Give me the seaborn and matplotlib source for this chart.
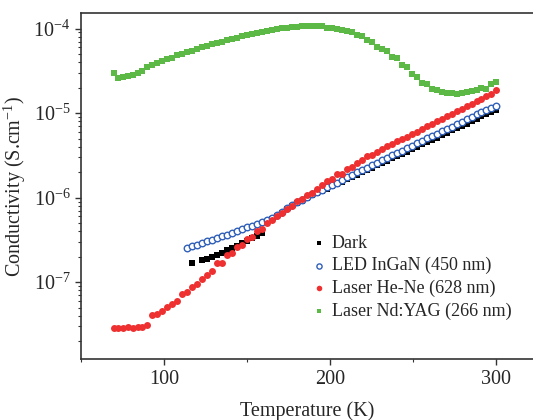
import pandas as pd
import seaborn as sns
import matplotlib.pyplot as plt
from matplotlib.ticker import MultipleLocator, LogLocator

# temperatures (K)
temp = [70, 72, 75, 78, 81, 84, 87, 90, 93, 96, 99, 102, 105, 108, 111, 114, 117, 120,
        123, 126, 129, 132, 135, 138, 141, 144, 147, 150, 153, 156, 159, 162, 165, 168,
        171, 174, 177, 180, 183, 186, 189, 192, 195, 198, 201, 204, 207, 210, 213, 216,
        219, 222, 225, 228, 231, 234, 237, 240, 243, 246, 249, 252, 255, 258, 261, 264,
        267, 270, 273, 276, 279, 282, 285, 288, 291, 294, 297, 300]
temp_led = [114, 117, 120, 123, 126, 129, 132, 135, 138, 141, 144, 147, 150, 153, 156,
            159, 162, 165, 168, 171, 174, 177, 180, 183, 186, 189, 192, 195, 198, 201,
            204, 207, 210, 213, 216, 219, 222, 225, 228, 231, 234, 237, 240, 243, 246,
            249, 252, 255, 258, 261, 264, 267, 270, 273, 276, 279, 282, 285, 288, 291,
            294, 297, 300]
temp_dark = [117, 123, 126, 129, 132, 135, 138, 141, 144, 147, 150, 153, 156, 159, 162,
             165, 168, 171, 174, 177, 180, 183, 186, 189, 192, 195, 198, 201, 204, 207,
             210, 213, 216, 219, 222, 225, 228, 231, 234, 237, 240, 243, 246, 249, 252,
             255, 258, 261, 264, 267, 270, 273, 276, 279, 282, 285, 288, 291, 294, 297,
             300]

# conductivity (S/cm)
dark = [1.69e-7, 1.83e-7, 1.88e-7, 1.99e-7, 2.10e-7, 2.24e-7, 2.38e-7, 2.53e-7, 2.71e-7,
        2.90e-7, 3.10e-7, 3.32e-7, 3.56e-7, 3.86e-7, 5.21e-7, 5.57e-7, 6.14e-7, 6.66e-7,
        7.33e-7, 7.94e-7, 8.63e-7, 9.23e-7, 9.89e-7, 1.06e-6, 1.12e-6, 1.20e-6, 1.27e-6,
        1.36e-6, 1.45e-6, 1.55e-6, 1.64e-6, 1.76e-6, 1.86e-6, 2.00e-6, 2.11e-6, 2.26e-6,
        2.40e-6, 2.57e-6, 2.72e-6, 2.92e-6, 3.09e-6, 3.31e-6, 3.51e-6, 3.76e-6, 3.98e-6,
        4.27e-6, 4.52e-6, 4.84e-6, 5.13e-6, 5.50e-6, 5.82e-6, 6.24e-6, 6.61e-6, 7.08e-6,
        7.50e-6, 8.04e-6, 8.51e-6, 9.12e-6, 9.66e-6, 1.02e-5, 1.08e-5]
led = [2.51e-7, 2.65e-7, 2.78e-7, 2.91e-7, 3.04e-7, 3.19e-7, 3.34e-7, 3.49e-7, 3.66e-7,
       3.83e-7, 4.04e-7, 4.22e-7, 4.46e-7, 4.67e-7, 4.93e-7, 5.21e-7, 5.51e-7, 5.81e-7,
       6.25e-7, 6.79e-7, 7.57e-7, 8.22e-7, 8.90e-7, 9.50e-7, 1.02e-6, 1.10e-6, 1.17e-6,
       1.24e-6, 1.33e-6, 1.43e-6, 1.51e-6, 1.62e-6, 1.74e-6, 1.86e-6, 2.00e-6, 2.11e-6,
       2.26e-6, 2.40e-6, 2.57e-6, 2.75e-6, 2.95e-6, 3.16e-6, 3.35e-6, 3.59e-6, 3.85e-6,
       4.07e-6, 4.37e-6, 4.68e-6, 5.01e-6, 5.31e-6, 5.69e-6, 6.10e-6, 6.46e-6, 6.92e-6,
       7.41e-6, 7.94e-6, 8.41e-6, 9.02e-6, 9.66e-6, 1.02e-5, 1.10e-5, 1.16e-5, 1.20e-5]
hene = [2.84e-8, 2.84e-8, 2.86e-8, 2.91e-8, 2.86e-8, 2.91e-8, 2.97e-8, 3.11e-8, 4.05e-8,
        4.24e-8, 4.59e-8, 5.08e-8, 5.56e-8, 6.04e-8, 7.24e-8, 7.57e-8, 8.85e-8, 9.53e-8,
        1.09e-7, 1.22e-7, 1.34e-7, 1.67e-7, 1.69e-7, 2.10e-7, 2.22e-7, 2.61e-7, 2.78e-7,
        3.21e-7, 3.46e-7, 4.04e-7, 4.27e-7, 5.03e-7, 5.40e-7, 6.14e-7, 6.53e-7, 7.43e-7,
        8.00e-7, 9.06e-7, 9.57e-7, 1.06e-6, 1.13e-6, 1.26e-6, 1.40e-6, 1.56e-6, 1.67e-6,
        1.88e-6, 1.88e-6, 2.19e-6, 2.33e-6, 2.58e-6, 2.75e-6, 3.09e-6, 3.21e-6, 3.45e-6,
        3.72e-6, 4.07e-6, 4.30e-6, 4.62e-6, 4.92e-6, 5.25e-6, 5.60e-6, 6.02e-6, 6.46e-6,
        6.95e-6, 7.48e-6, 8.04e-6, 8.58e-6, 9.21e-6, 9.84e-6, 1.05e-5, 1.13e-5, 1.20e-5,
        1.28e-5, 1.38e-5, 1.47e-5, 1.61e-5, 1.70e-5, 1.86e-5]
ndyag = [3.01e-5, 2.63e-5, 2.67e-5, 2.74e-5, 2.85e-5, 2.98e-5, 3.15e-5, 3.51e-5, 3.74e-5,
         3.88e-5, 4.13e-5, 4.41e-5, 4.53e-5, 4.83e-5, 5.00e-5, 5.24e-5, 5.49e-5, 5.69e-5,
         6.05e-5, 6.22e-5, 6.52e-5, 6.70e-5, 7.02e-5, 7.27e-5, 7.53e-5, 7.82e-5, 8.11e-5,
         8.34e-5, 8.63e-5, 8.79e-5, 9.12e-5, 9.37e-5, 9.62e-5, 9.82e-5, 1.01e-4, 1.016e-4,
         1.045e-4, 1.045e-4, 1.074e-4, 1.074e-4, 1.074e-4, 1.064e-4, 1.064e-4, 1.028e-4,
         1.028e-4, 9.82e-5, 9.73e-5, 9.29e-5, 9.12e-5, 8.40e-5, 8.17e-5, 7.41e-5, 7.02e-5,
         6.12e-5, 5.73e-5, 5.49e-5, 4.61e-5, 4.45e-5, 3.67e-5, 3.48e-5, 2.87e-5, 2.70e-5,
         2.29e-5, 2.19e-5, 1.95e-5, 1.86e-5, 1.76e-5, 1.75e-5, 1.75e-5, 1.70e-5, 1.75e-5,
         1.76e-5, 1.82e-5, 1.89e-5, 1.98e-5, 1.91e-5, 2.21e-5, 2.36e-5]

sns.set_style("ticks")
plt.rcParams["font.family"] = ["Liberation Serif", "DejaVu Serif"]
plt.rcParams["mathtext.fontset"] = "custom"
plt.rcParams["mathtext.rm"] = "Liberation Serif"
plt.rcParams["mathtext.it"] = "Liberation Serif:italic"

fig, ax = plt.subplots(figsize=(5.33, 4.2), dpi=100)
fig.subplots_adjust(left=0.152, right=1.0, bottom=0.145, top=0.968)

sns.scatterplot(x=temp_dark, y=dark, ax=ax, marker="s", color="black", s=17,
                linewidth=0, label="Dark", zorder=3)
sns.scatterplot(x=temp_led, y=led, ax=ax, marker="o", facecolor="white",
                edgecolor="#2f5fb8", s=22, linewidth=1.0, label="LED InGaN (450 nm)", zorder=4)
sns.scatterplot(x=temp, y=hene, ax=ax, marker="o", color="#ee3030", s=25,
                linewidth=0, label="Laser He-Ne (628 nm)", zorder=5)
sns.scatterplot(x=temp, y=ndyag, ax=ax, marker="s", color="#5cb946", s=19,
                linewidth=0, label="Laser Nd:YAG (266 nm)", zorder=5)

ax.set_yscale("log")
ax.set_xlim(50, 322)
ax.set_ylim(1.23e-8, 1.51e-4)
ax.xaxis.set_major_locator(MultipleLocator(100))
ax.xaxis.set_minor_locator(MultipleLocator(50))
ax.yaxis.set_minor_locator(LogLocator(base=10, subs=range(2, 10)))

ax.set_xlabel("Temperature (K)", fontsize=14.5, labelpad=9)
ax.set_ylabel("Conductivity (S.cm$^{-1}$)", fontsize=14.5, labelpad=4)
ax.tick_params(axis="both", which="major", direction="out", length=4, width=1,
               labelsize=14.5, color="#333333")
ax.tick_params(axis="both", which="minor", direction="out", length=2.5, width=0.8,
               color="#333333")
for side in ["left", "bottom", "top"]:
    ax.spines[side].set_linewidth(1.2)
    ax.spines[side].set_color("#333333")
ax.spines["right"].set_visible(False)

ax.legend(loc="upper left", bbox_to_anchor=(0.515, 0.36), frameon=False, fontsize=13,
          handlelength=0.6, handletextpad=0.4, labelspacing=0.3, borderpad=0,
          borderaxespad=0, markerscale=0.8)

fig.savefig("out.png", dpi=100)
